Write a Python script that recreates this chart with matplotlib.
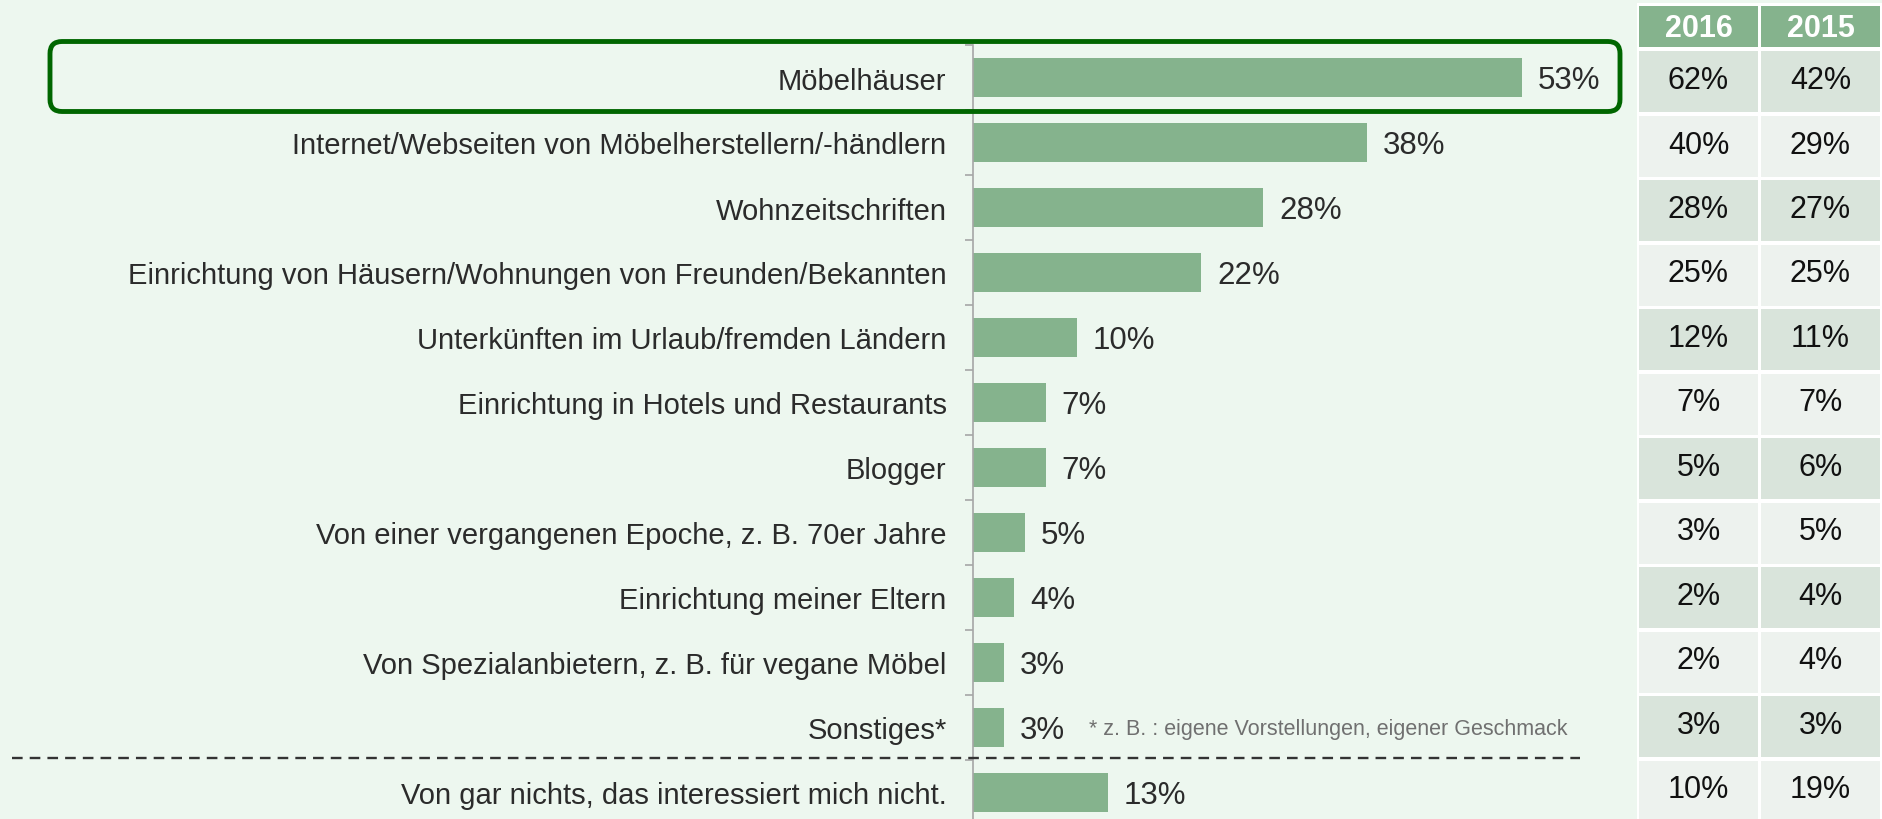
import matplotlib
matplotlib.use('Agg')
import matplotlib.pyplot as plt
from matplotlib.patches import Rectangle, FancyBboxPatch
import numpy as np

plt.rcParams['font.family'] = ['Liberation Sans', 'DejaVu Sans']

# Daten
categories = [
    'Möbelhäuser',
    'Internet/Webseiten von Möbelherstellern/-händlern',
    'Wohnzeitschriften',
    'Einrichtung von Häusern/Wohnungen von Freunden/Bekannten',
    'Unterkünften im Urlaub/fremden Ländern',
    'Einrichtung in Hotels und Restaurants',
    'Blogger',
    'Von einer vergangenen Epoche, z. B. 70er Jahre',
    'Einrichtung meiner Eltern',
    'Von Spezialanbietern, z. B. für vegane Möbel',
    'Sonstiges*',
    'Von gar nichts, das interessiert mich nicht.',
]
share_2017 = [53, 38, 28, 22, 10, 7, 7, 5, 4, 3, 3, 13]
share_2016 = [62, 40, 28, 25, 12, 7, 5, 3, 2, 2, 3, 10]
share_2015 = [42, 29, 27, 25, 11, 7, 6, 5, 4, 4, 3, 19]
years = ['2016', '2015']
footnote = '* z. B. : eigene Vorstellungen, eigener Geschmack'

W, H = 1882, 820
BG = '#EDF7EF'
GREEN = '#85B38D'
TXT = '#2B2B2B'

fig = plt.figure(figsize=(W / 100, H / 100), dpi=100, facecolor=BG)

# Balkendiagramm
ax = fig.add_axes([973 / W, (H - 826) / H, (1620 - 973) / W, 780 / H])
ax.set_facecolor('none')
y = np.arange(len(categories))
ax.barh(y, share_2017, height=0.6, color=GREEN, zorder=2)
ax.set_xlim(0, 62.45)
ax.set_ylim(len(categories) - 0.5, -0.5)
for s in ['top', 'right', 'bottom']:
    ax.spines[s].set_visible(False)
ax.spines['left'].set_color('#A6A6A6')
ax.spines['left'].set_linewidth(1.2)
ax.set_xticks([])
ax.set_yticks(y)
ax.set_yticklabels(categories, fontsize=21, color=TXT, va='center_baseline')
ax.tick_params(axis='y', which='major', length=0, pad=19)
ax.set_yticks(np.arange(-0.5, len(categories), 1), minor=True)
ax.tick_params(axis='y', which='minor', length=6, width=1.2, color='#A6A6A6')

for yi, v in zip(y, share_2017):
    ax.annotate(f'{v}%', (v, yi), xytext=(11.5, -2), textcoords='offset points',
                ha='left', va='center', fontsize=22.5, color=TXT)

# Overlay in Pixelkoordinaten
ov = fig.add_axes([0, 0, 1, 1], zorder=5)
ov.set_xlim(0, W)
ov.set_ylim(H, 0)
ov.axis('off')
ov.patch.set_alpha(0)

# Markierung Möbelhäuser
ov.add_patch(FancyBboxPatch((50, 42.5), 1570, 70,
                            boxstyle='round,pad=0,rounding_size=12',
                            fill=False, edgecolor='#006600', linewidth=3.5))

# gestrichelte Trennlinie
ov.plot([12, 1580], [759, 759], color='#333333', linewidth=1.7,
        linestyle=(0, (4.5, 3)))

# Fußnote
ov.text(1089, 730, footnote, fontsize=15.5, color='#707070', ha='left', va='center')

# Vergleichstabelle
ov.add_patch(Rectangle((1637, 4), W - 1637, H - 4, facecolor='white', edgecolor='none'))
col_x = [(1639, 1758), (1761, 1880)]
for (x0, x1), yr in zip(col_x, years):
    ov.add_patch(Rectangle((x0, 7), x1 - x0, 41, facecolor=GREEN, edgecolor='none'))
    ov.text((x0 + x1) / 2, 29, yr, fontsize=22, fontweight='bold', color='white',
            ha='center', va='center')
pitch = 64.5
for i in range(len(categories)):
    top = 52 + i * pitch
    fc = '#D9E4DB' if i % 2 == 0 else '#EDF2EE'
    for (x0, x1), vals in zip(col_x, [share_2016, share_2015]):
        ov.add_patch(Rectangle((x0, top), x1 - x0, pitch - 3.5, facecolor=fc, edgecolor='none'))
        ov.text((x0 + x1) / 2, top + 29, f'{vals[i]}%', fontsize=22, color='#111111',
                ha='center', va='center')

plt.savefig('out.png', dpi=100, facecolor=BG)
